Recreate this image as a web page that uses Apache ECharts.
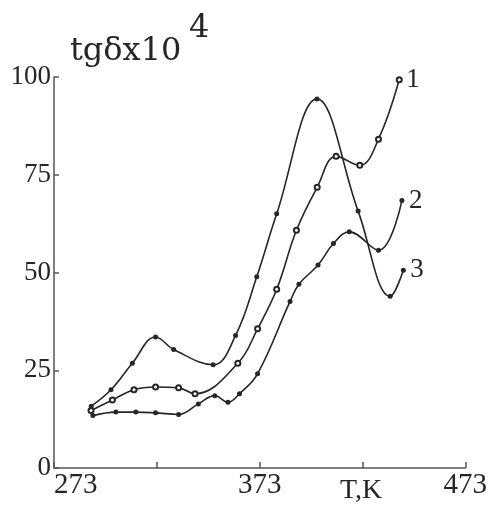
<!DOCTYPE html>
<html>
<head>
<meta charset="utf-8">
<script src="https://cdn.jsdelivr.net/npm/echarts@6/dist/echarts.min.js"></script>
<style>
  html, body { margin: 0; padding: 0; background: #fff; }
  #chart { width: 490px; height: 507px; }
</style>
</head>
<body>
<div id="chart"></div>
<script>
// curve labels as printed at the end of each curve
const curveNames = ['1', '2', '3'];

// curve 1 (open circles)
const temp1 = [291, 301.4, 311.9, 322.4, 333.6, 341.6, 362.4, 372, 381.3, 390.9, 401, 410.2, 421.7, 430.8, 440.9];
const tg1 = [14.7, 17.4, 20.0, 20.7, 20.5, 19.0, 26.8, 35.6, 45.7, 60.8, 71.8, 79.7, 77.4, 84.1, 99.3];

// curve 2 (filled dots, lowest at low T)
const temp2 = [291.9, 303.1, 312.8, 322.4, 333.6, 343.2, 351.2, 357.6, 363.2, 372, 387.8, 392.1, 401.4, 408.9, 416.6, 430.8, 442.2];
const tg2 = [13.4, 14.3, 14.3, 14.1, 13.7, 16.4, 18.5, 16.8, 19.0, 24.1, 42.6, 47.0, 51.9, 57.4, 60.4, 55.7, 68.4];

// curve 3 (filled dots, highest peak)
const temp3 = [291.1, 300.7, 311.1, 322.4, 331.2, 350.4, 361.3, 371.6, 381.3, 400.9, 420.9, 436.5, 442.9];
const tg3 = [15.8, 20.0, 26.8, 33.5, 30.3, 26.4, 33.9, 48.9, 65.0, 94.4, 65.7, 43.9, 50.6];

// axis ticks
const xTicks = [273, 323, 373, 423, 473];
const xShown = [273, 373, 473];
const yTicks = [0, 25, 50, 75, 100];

const pairs = (xs, ys) => xs.map((x, i) => [x, ys[i]]);

const ink = '#262626';
const serif = 'Liberation Serif';

const makeSeries = (name, data, symbol) => ({
  name: name,
  type: 'line',
  data: data,
  smooth: 0.4,
  symbol: symbol,
  symbolSize: 5,
  showAllSymbol: true,
  lineStyle: { color: ink, width: 1.6 },
  itemStyle: { color: ink, borderWidth: 1 },
  endLabel: {
    show: true,
    formatter: '{a}',
    color: ink,
    fontFamily: serif,
    fontSize: 27,
    distance: 7
  },
  animation: false
});

const chart = echarts.init(document.getElementById('chart'));

chart.setOption({
  backgroundColor: '#fff',
  animation: false,
  grid: { left: 54, right: 20, top: 77, bottom: 39 },
  xAxis: {
    type: 'value',
    min: xTicks[0],
    max: xTicks[xTicks.length - 1],
    interval: 50,
    splitLine: { show: false },
    axisLine: { lineStyle: { color: '#555', width: 1.5 } },
    axisTick: { inside: true, length: 6, lineStyle: { color: '#555', width: 1.5 } },
    axisLabel: {
      color: ink,
      fontFamily: serif,
      fontSize: 29,
      margin: 3,
      alignMinLabel: 'left',
      formatter: v => (xShown.indexOf(v) >= 0 ? String(v) : '')
    }
  },
  yAxis: {
    type: 'value',
    min: yTicks[0],
    max: yTicks[yTicks.length - 1],
    interval: 25,
    splitLine: { show: false },
    axisLine: { lineStyle: { color: '#555', width: 1.5 } },
    axisTick: { inside: true, length: 5, lineStyle: { color: '#555', width: 1.5 } },
    axisLabel: { color: ink, fontFamily: serif, fontSize: 27, margin: 3 }
  },
  graphic: [
    { type: 'text', left: 70, top: 36, style: { text: 'tgδx10', font: '32px "DejaVu Serif"', fill: ink } },
    { type: 'text', left: 189, top: 13, style: { text: '4', font: '32px "DejaVu Serif"', fill: ink } },
    { type: 'text', left: 340, top: 477, style: { text: 'T,K', font: '28px "Liberation Serif"', fill: ink } }
  ],
  series: [
    makeSeries(curveNames[0], pairs(temp1, tg1), 'emptyCircle'),
    makeSeries(curveNames[1], pairs(temp2, tg2), 'circle'),
    makeSeries(curveNames[2], pairs(temp3, tg3), 'circle')
  ]
});
</script>
</body>
</html>
